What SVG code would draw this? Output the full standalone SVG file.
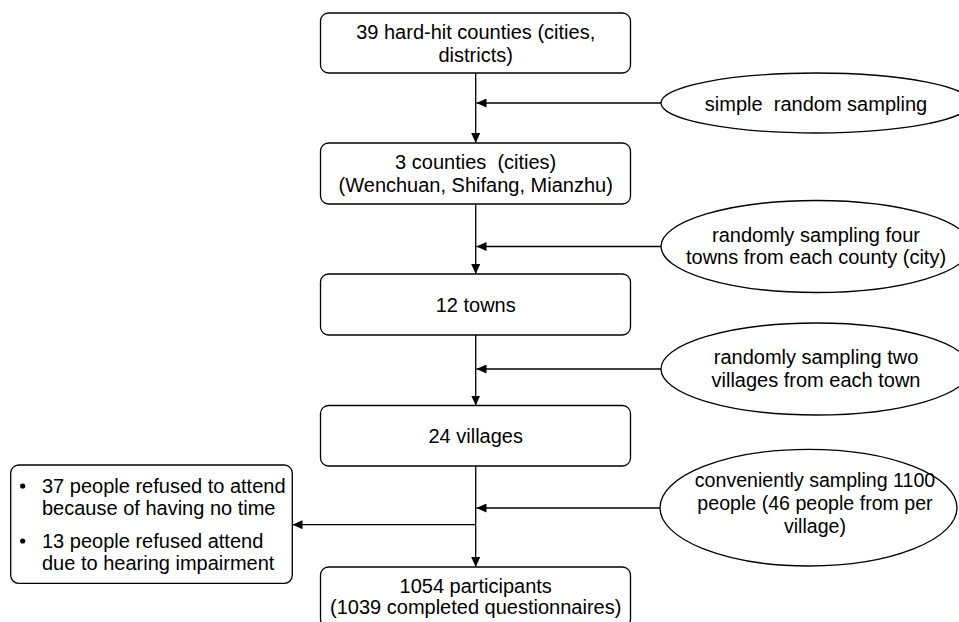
<svg xmlns="http://www.w3.org/2000/svg" width="959" height="622" viewBox="0 0 959 622">
<style>
.box{fill:#fff;stroke:#000;stroke-width:1.3}
.ell{fill:#fff;stroke:#000;stroke-width:1.3}
.t{font-family:"Liberation Sans",Arial,sans-serif;font-size:20px;fill:#000}
.c{text-anchor:middle}
.ln{stroke:#000;stroke-width:1.3;fill:none}
</style>
<defs>
<marker id="ah" markerUnits="userSpaceOnUse" markerWidth="11" markerHeight="9" refX="10" refY="4.5" orient="auto">
<path d="M0,0 L10,4.5 L0,9 z" fill="#000"/>
</marker>
</defs>
<g id="connectors">
<line class="ln" x1="475.7" y1="73" x2="475.7" y2="143" marker-end="url(#ah)"/>
<line class="ln" x1="475.7" y1="204" x2="475.7" y2="274" marker-end="url(#ah)"/>
<line class="ln" x1="475.7" y1="335" x2="475.7" y2="405.5" marker-end="url(#ah)"/>
<line class="ln" x1="475.7" y1="466" x2="475.7" y2="567" marker-end="url(#ah)"/>
<line class="ln" x1="661" y1="103" x2="476.5" y2="103" marker-end="url(#ah)"/>
<line class="ln" x1="661" y1="246.5" x2="476.5" y2="246.5" marker-end="url(#ah)"/>
<line class="ln" x1="661" y1="369" x2="476.5" y2="369" marker-end="url(#ah)"/>
<line class="ln" x1="660" y1="508" x2="476.5" y2="508" marker-end="url(#ah)"/>
<line class="ln" x1="475.7" y1="524.7" x2="292.5" y2="524.7" marker-end="url(#ah)"/>
</g>
<g id="n1">
<rect class="box" x="320.5" y="13" width="310" height="60" rx="8"/>
<text class="t c" x="475.7" y="38.5">39 hard-hit counties (cities,</text>
<text class="t c" x="475.7" y="61.5">districts)</text>
</g>
<g id="n2">
<rect class="box" x="320.5" y="143" width="310" height="61" rx="8"/>
<text class="t c" x="475.7" y="169" xml:space="preserve">3 counties  (cities)</text>
<text class="t c" x="475.7" y="192">(Wenchuan, Shifang, Mianzhu)</text>
</g>
<g id="n3">
<rect class="box" x="320.5" y="274" width="310" height="61" rx="8"/>
<text class="t c" x="475.7" y="311.5">12 towns</text>
</g>
<g id="n4">
<rect class="box" x="320.5" y="405.5" width="310" height="60.5" rx="8"/>
<text class="t c" x="475.7" y="443">24 villages</text>
</g>
<g id="n5">
<rect class="box" x="320.5" y="567" width="310" height="60" rx="8"/>
<text class="t c" x="475.7" y="592.5">1054 participants</text>
<text class="t c" x="475.7" y="614">(1039 completed questionnaires)</text>
</g>
<g id="n6">
<rect class="box" x="10.7" y="465" width="281.6" height="118.3" rx="8"/>
<circle cx="22.7" cy="486" r="2.6" fill="#000"/>
<circle cx="22.7" cy="541" r="2.6" fill="#000"/>
<text class="t" x="42" y="493.3">37 people refused to attend</text>
<text class="t" x="42" y="515">because of having no time</text>
<text class="t" x="42" y="548.3">13 people refused attend</text>
<text class="t" x="42" y="570">due to hearing impairment</text>
</g>
<g id="e1">
<ellipse class="ell" cx="816" cy="103" rx="155" ry="30"/>
<text class="t c" x="816" y="110.7" xml:space="preserve">simple  random sampling</text>
</g>
<g id="e2">
<ellipse class="ell" cx="816" cy="246.5" rx="155" ry="46"/>
<text class="t c" x="816" y="241.5">randomly sampling four</text>
<text class="t c" x="816" y="263.5">towns from each county (city)</text>
</g>
<g id="e3">
<ellipse class="ell" cx="816" cy="369" rx="155" ry="46"/>
<text class="t c" x="816" y="364.3">randomly sampling two</text>
<text class="t c" x="816" y="386.7">villages from each town</text>
</g>
<g id="e4">
<ellipse class="ell" cx="808.5" cy="507.7" rx="148.5" ry="58.3"/>
<text class="t c" x="815" y="487" style="font-size:19.6px">conveniently sampling 1100</text>
<text class="t c" x="815" y="510" style="font-size:19.6px">people (46 people from per</text>
<text class="t c" x="815" y="533" style="font-size:19.6px">village)</text>
</g>
</svg>
